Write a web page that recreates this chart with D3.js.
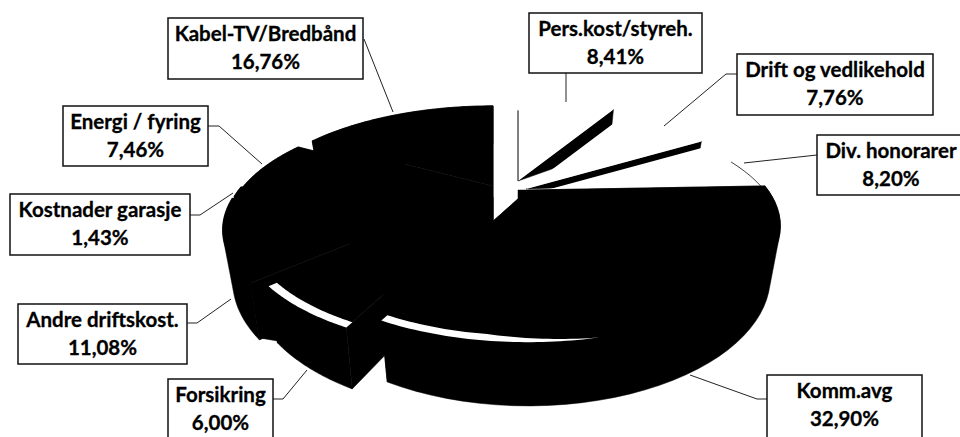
<!DOCTYPE html>
<html>
<head>
<meta charset="utf-8">
<script src="https://cdn.jsdelivr.net/npm/d3@7"></script>
<style>
  html, body { margin: 0; padding: 0; background: #fff; overflow: hidden; }
  text { font-family: Lato, "Open Sans", sans-serif; font-weight: 700; font-size: 20.5px; fill: #000; stroke: #000; stroke-width: 0.3px; }
</style>
</head>
<body>
<div id="chart"></div>
<script>
// data, clockwise from twelve o'clock
const categories = ["Pers.kost/styreh.", "Drift og vedlikehold", "Div. honorarer", "Komm.avg", "Forsikring",
  "Andre driftskost.", "Kostnader garasje", "Energi / fyring", "Kabel-TV/Bredbånd"];
const values = [8.41, 7.76, 8.20, 32.90, 6.00, 11.08, 1.43, 7.46, 16.76];

// where each exploded slice has its tip
const tips = [[518, 181], [526, 189], [528, 195], [528, 190], [493, 197], [475, 194], [477, 192], [479, 192], [493, 186]];

// label boxes: x, y, w, h and the leader line from the box to the slice
const boxes = [
  { x: 529, y: 13, w: 173, h: 60, leader: [[566, 73], [566, 102]] },
  { x: 737, y: 54, w: 196, h: 61, leader: [[737, 74], [726, 74], [664, 126]] },
  { x: 817, y: 135, w: 160, h: 60, textX: 891, leader: [[817, 155], [744, 163]] },
  { x: 767, y: 375, w: 155, h: 90, leader: [[767, 399], [757, 399], [690, 375]] },
  { x: 168, y: 379, w: 105, h: 90, leader: [[273, 399], [283, 399], [307, 370]] },
  { x: 18, y: 304, w: 169, h: 60, leader: [[187, 323], [197, 323], [231, 299]] },
  { x: 10, y: 194, w: 180, h: 61, leader: [[190, 215], [200, 215], [233, 193]] },
  { x: 63, y: 106, w: 145, h: 60, leader: [[208, 126], [219, 126], [262, 164]] },
  { x: 168, y: 18, w: 195, h: 61, leader: [[364, 39], [393, 112]] }
];

const width = 960, height = 437;
const rx = 240, ry = 105, persp = 0.31;     // top face, back of the pie is further away
const shrinkX = 0.96, stretchY = 1.11, drop = 47;   // bottom rim relative to the top rim

const svg = d3.select("#chart").append("svg")
  .attr("width", width)
  .attr("height", height);

const slices = d3.pie().sort(null).startAngle(0).endAngle(2 * Math.PI)(values);
const line = d3.line();

// angle and radius fraction -> offset from the slice tip
function project(a, f) {
  const u = Math.sin(a) * f, v = Math.cos(a) * f;
  const s = 1 / (1 + persp * v);
  return [rx * u * s, -ry * v * s];
}
function topRim(i, a, f = 1) {
  const p = project(a, f);
  return [tips[i][0] + p[0], tips[i][1] + p[1]];
}
function bottomRim(i, a, f = 1) {
  const p = project(a, f);
  return [tips[i][0] + p[0] * shrinkX, tips[i][1] + drop + p[1] * stretchY];
}
function rim(i, from, to, fn, f) {
  return d3.range(0, 41).map(k => fn(i, from + (to - from) * k / 40, f));
}
function blackShape(points) {
  svg.append("path")
    .attr("d", line(points) + "Z")
    .attr("fill", "#000")
    .attr("stroke", "#000")
    .attr("stroke-width", 0.5);
}

function drawWhite(i) {
  const d = slices[i];
  // only the cut face on the clockwise side shows, as a thin black wedge
  blackShape([tips[i], topRim(i, d.endAngle), bottomRim(i, d.endAngle)]);
  svg.append("path")
    .attr("d", line([tips[i], ...rim(i, d.startAngle, d.endAngle, topRim)]) + "Z")
    .attr("fill", "#fff");
}

function drawBlack(i) {
  const d = slices[i];
  const tipLow = [tips[i][0], tips[i][1] + drop];
  // hull, so the outer wall has no dent between the two rims
  blackShape(d3.polygonHull([...rim(i, d.startAngle, d.endAngle, topRim), ...rim(i, d.startAngle, d.endAngle, bottomRim)]));
  blackShape([tips[i], topRim(i, d.startAngle), bottomRim(i, d.startAngle), tipLow]);
  blackShape([tips[i], topRim(i, d.endAngle), bottomRim(i, d.endAngle), tipLow]);
  blackShape([tips[i], ...rim(i, d.startAngle, d.endAngle, topRim)]);
}

// back to front
[0, 1, 2].forEach(drawWhite);

// thin line on the left edge of the first slice
svg.append("path")
  .attr("d", line([tips[0], topRim(0, slices[0].startAngle, 0.85)]))
  .attr("stroke", "#000")
  .attr("stroke-width", 1)
  .attr("fill", "none");

// rim of the third slice only shows near the end
svg.append("path")
  .attr("d", line(rim(2, slices[2].startAngle + 0.2, slices[2].endAngle, topRim)))
  .attr("stroke", "#000")
  .attr("stroke-width", 0.8)
  .attr("fill", "none");

[8, 7, 6, 5, 4, 3].forEach(drawBlack);

// the big slice reaches left to the edge of the first one
blackShape([[tips[0][0], tips[3][1]], [tips[0][0], tips[3][1] + 12], tips[3]]);

// the gap between Andre and Forsikring is closed apart from a small notch
const gapAngle = slices[4].endAngle;
blackShape([
  topRim(5, gapAngle), topRim(4, gapAngle),
  [bottomRim(4, gapAngle)[0], bottomRim(4, gapAngle)[1] - 2],
  [bottomRim(5, gapAngle)[0], bottomRim(5, gapAngle)[1] - 2]
]);

// white glare along the front rim
function glare(i, from, to, thick) {
  const ks = d3.range(0, 41);
  const outer = ks.map(k => topRim(i, from + (to - from) * k / 40, 1));
  const inner = ks.map(k => topRim(i, from + (to - from) * k / 40, 1 - thick(k / 40))).reverse();
  svg.append("path")
    .attr("d", line([...outer, ...inner]) + "Z")
    .attr("fill", "#fff");
}
glare(4, slices[4].startAngle, slices[4].endAngle, () => 0.03);
glare(3, slices[3].endAngle, 168 * Math.PI / 180, t => 0.03 * Math.min(1, (1 - t) / 0.5));

// leader lines and label boxes
svg.selectAll(".leader").data(boxes).enter().append("path")
  .attr("class", "leader")
  .attr("d", b => line(b.leader))
  .attr("fill", "none")
  .attr("stroke", "#222")
  .attr("stroke-width", 1);

svg.selectAll(".box").data(boxes).enter().append("rect")
  .attr("class", "box")
  .attr("x", b => b.x).attr("y", b => b.y)
  .attr("width", b => b.w).attr("height", b => b.h)
  .attr("fill", "#fff")
  .attr("stroke", "#111")
  .attr("stroke-width", 1.5);

const pct = d3.format(".2f");
const labels = svg.selectAll(".label").data(boxes).enter().append("g").attr("class", "label");
labels.append("text")
  .attr("x", b => b.textX || b.x + b.w / 2)
  .attr("y", b => b.y + 23)
  .attr("text-anchor", "middle")
  .text((b, i) => categories[i]);
labels.append("text")
  .attr("x", b => b.textX || b.x + b.w / 2)
  .attr("y", b => b.y + 51)
  .attr("text-anchor", "middle")
  .text((b, i) => pct(values[i]).replace(".", ",") + "%");
</script>
</body>
</html>
